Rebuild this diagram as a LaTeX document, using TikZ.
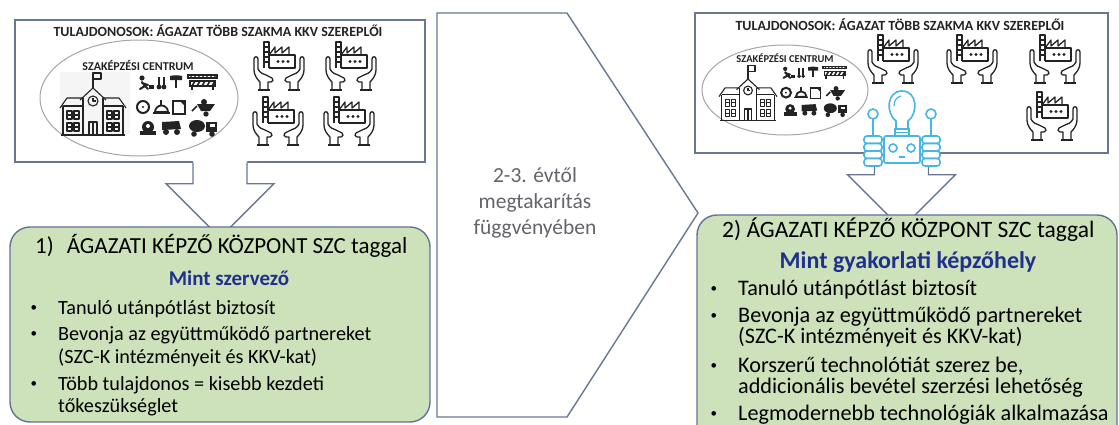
\documentclass[tikz,border=0pt]{standalone}
\usepackage{fontspec}
\setmainfont{Carlito}
\definecolor{keret}{RGB}{105,118,148}
\definecolor{zoldhat}{RGB}{205,226,186}
\definecolor{zoldkeret}{RGB}{96,114,150}
\definecolor{sotetkek}{RGB}{32,48,140}
\definecolor{szurke}{RGB}{100,100,108}
\definecolor{izzo}{RGB}{70,182,228}
\definecolor{ikon}{RGB}{35,35,35}
\definecolor{ellipszis}{RGB}{165,165,170}

\newcommand\pont{\llap{\raisebox{2.4pt}{\fontsize{13}{13}\selectfont\textbullet}\hspace{21pt}}}

\tikzset{
  felsodoboz/.style={draw=keret, line width=1.4pt, fill=white, inner sep=0pt},
  zolddoboz/.style={draw=zoldkeret, line width=1.4pt, fill=zoldhat, rounded corners=20pt, inner sep=0pt},
  sor/.style={anchor=base west, inner sep=0pt},
  lenyil/.pic={
    \fill[white] (-27,-2) -- (-27,21) -- (-54,21) -- (0,75) -- (54,21) -- (27,21) -- (27,-2) -- cycle;
    \draw[keret, line width=1.4pt, line join=miter] (-27,0) -- (-27,21) -- (-54,21) -- (0,75) -- (54,21) -- (27,21) -- (27,0);
  },
  gyarkez/.pic={
    \begin{scope}[ikon, line width=1.3pt, line join=round]
      \draw (-15,1) -- (-15,-25) -- (-10,-25) -- (-10,1);
      \foreach \yy in {-20,-15,-10,-5} \draw (-15,\yy) -- (-10,\yy);
      \draw (-10,-12) -- (-4,-20) -- (-4,-14) -- (3,-20) -- (3,-14) -- (10,-20) -- (10,-12);
      \draw (-10,-12) -- (16,-12) -- (16,1) -- (-10,1);
      \foreach \xx in {-1,4,9} \fill (\xx,-5.5) circle (1.7);
      \foreach \s in {1,-1} {
        \begin{scope}[xscale=\s]
          \draw (-19,23) -- (-19,15) .. controls (-22,12) and (-25,8) .. (-25,3) -- (-25,-8)
            .. controls (-25,-11) and (-21,-11) .. (-21,-8) -- (-21,2)
            .. controls (-19,6) and (-16,7) .. (-13,8) -- (-7,11)
            .. controls (-5,12) and (-6,15) .. (-8,15) -- (-11,15) -- (-11,23);
          \draw (-21,23) -- (-9,23);
        \end{scope}}
    \end{scope}
  },
  iskola/.pic={
    \begin{scope}[ikon, line width=1.1pt, line join=round]
      \draw (-32,30) -- (32,30);
      \draw (-30,30) -- (-30,1) (30,30) -- (30,1);
      \draw (-33,3) -- (-26,-7) -- (-10,-7) (33,3) -- (26,-7) -- (10,-7);
      \draw (-10,30) -- (-10,-7) (10,30) -- (10,-7);
      \draw (-13,-5) -- (0,-17) -- (13,-5);
      \draw (-30,1) -- (-10,1) (10,1) -- (30,1);
      \draw (0,-17) -- (0,-32);
      \draw (0,-32) rectangle (8,-26);
      \draw (0,-4) circle (5);
      \draw (0,-7) -- (0,-4) -- (2.5,-4);
      \foreach \xx in {-26,-19,14,21}
        \foreach \yy in {6,18} {
          \draw (\xx,\yy) rectangle ++(5,8);
          \draw (\xx,\yy+4) -- ++(5,0);
        }
      \draw (-4,17) rectangle (4,30);
      \draw (0,17) -- (0,30);
    \end{scope}
  },
  eszkozok/.pic={
    \begin{scope}[ikon]
      \fill (-40,-27) circle (2.6);
      \draw[line width=2pt, line cap=round] (-40,-23) -- (-37,-19) -- (-42,-16) (-37,-19) -- (-34,-16) (-40,-22) -- (-34,-20);
      \fill (-33,-20) rectangle (-28,-16);
      \draw[line width=2pt] (-23,-28) -- (-23,-19) (-18,-28) -- (-18,-19);
      \fill (-23,-18) circle (2.4) (-18,-18) circle (2.4);
      \fill (-12,-29) .. controls (-8,-30) and (-4,-30) .. (0,-29) -- (0,-25) -- (-12,-25) -- cycle;
      \draw[line width=2.2pt] (-6,-26) -- (-6,-17);
      \draw[line width=1.2pt] (6,-30) rectangle (35,-27);
      \foreach \xx in {8,12,...,32} \draw[line width=1pt] (\xx,-27) -- (\xx+2,-30);
      \draw[line width=1.2pt] (8,-24) rectangle (33,-19);
      \foreach \xx in {10,15,...,30} \draw[line width=1.6pt] (\xx,-19) -- (\xx+3,-24);
      \draw[line width=1.8pt] (10,-19) -- (10,-15) (31,-19) -- (31,-15);
      \draw[line width=2pt] (-39,2) circle (6);
      \fill (-39,2) circle (1.2);
      \draw[line width=1.8pt, fill=white] (-27,7) arc (180:360:6.5) -- cycle;
      \draw[line width=1.8pt] (-21,1) -- (-21,-5);
      \draw[line width=1.8pt] (-29,8) -- (-12,8);
      \draw[line width=1.7pt] (-9,-4) rectangle (3,9);
      \fill (-2,-4) -- (3,-4) -- (3,1) -- cycle;
      \fill (15,-1) -- (33,-1) -- (28,6) -- (19,6) -- cycle;
      \fill (22,-3) circle (3);
      \fill (24,9) circle (2.7);
      \draw[line width=1.6pt] (15,1) -- (10,6);
      \fill (-34,22) circle (6);
      \fill (-42,26) rectangle (-26,30);
      \fill[white] (-34,21) circle (2);
      \fill (-20,17) -- (-3,16) -- (-1,24) -- (-20,25) -- cycle;
      \fill (-16,27) circle (3) (-5,27) circle (3);
      \fill (15,21) ellipse (8 and 6);
      \fill (24,17) rectangle (35,27);
      \fill[white] (28,19) rectangle (33,22);
      \fill (12,29) circle (2.8) (30,29) circle (2.8);
    \end{scope}
  }
}

\begin{document}
\begin{tikzpicture}[x=1pt,y=-1pt]
  \useasboundingbox (0,0) rectangle (1119,424);
  \clip (0,0) rectangle (1119,424);

  \node[felsodoboz, minimum width=410pt, minimum height=142pt] (felso1) at (220,91) {};
  \node[felsodoboz, minimum width=413pt, minimum height=140pt] (felso2) at (901.5,83) {};

  \fill[gray!8] (60,72) rectangle (130,134);
  \draw[ellipszis, line width=1pt] (139,98) ellipse (99 and 58);
  \draw[ellipszis, line width=1pt] (785,90) ellipse (83 and 45);

  \pic at (93,105) {iskola};
  \pic at (182,105) {eszkozok};
  \pic[scale=0.88] at (748,94) {iskola};
  \pic[scale=0.82] at (818,91) {eszkozok};

  \pic at (279,67) {gyarkez};
  \pic at (351,67) {gyarkez};
  \pic at (278,122) {gyarkez};
  \pic at (349,122) {gyarkez};
  \pic at (893,60) {gyarkez};
  \pic at (972,60) {gyarkez};
  \pic at (1055,60) {gyarkez};
  \pic at (1052,117) {gyarkez};

  \begin{scope}[text=ikon, inner sep=0pt]
    \node[anchor=base, font=\bfseries\fontsize{14}{16}\selectfont] (cim1) at (218,36) {TULAJDONOSOK: ÁGAZAT TÖBB SZAKMA KKV SZEREPLŐI};
    \node[anchor=base, font=\bfseries\fontsize{14}{16}\selectfont] (cim2) at (900,30) {TULAJDONOSOK: ÁGAZAT TÖBB SZAKMA KKV SZEREPLŐI};
    \node[anchor=base, font=\bfseries\fontsize{12}{14}\selectfont] (szc1) at (138,70) {SZAKÉPZÉSI CENTRUM};
    \node[anchor=base, font=\bfseries\fontsize{10.5}{12}\selectfont] (szc2) at (785,62) {SZAKÉPZÉSI CENTRUM};
  \end{scope}

  \pic at (felso1.south) {lenyil};
  \pic at (felso2.south) {lenyil};

  \draw[keret, line width=1.4pt, fill=white] (437,13) -- (567,13) -- (698,213) -- (567,417) -- (437,417) -- cycle;
  \node[align=center, text=szurke, font=\fontsize{21.5}{26}\selectfont] (kozep) at (535,203) {2-3. évtől\\megtakarítás\\függvényében};

  \node[zolddoboz, minimum width=420pt, minimum height=195pt] (zold1) at (220,324.5) {};
  \node[zolddoboz, minimum width=420pt, minimum height=235pt] (zold2) at (907,332.5) {};

  \node[sor, font=\fontsize{23}{26}\selectfont] (fej1) at (35,253) {1)\hspace{13pt}ÁGAZATI KÉPZŐ KÖZPONT SZC taggal};
  \node[sor, font=\fontsize{23.5}{26}\selectfont] (fej2) at (722,237) {2) ÁGAZATI KÉPZŐ KÖZPONT SZC taggal};
  \node[anchor=base, inner sep=0pt, text=sotetkek, font=\bfseries\fontsize{21}{24}\selectfont] (szerep1) at (229,285) {Mint szervező};
  \node[anchor=base, inner sep=0pt, text=sotetkek, font=\bfseries\fontsize{24}{26}\selectfont] (szerep2) at (908,268) {Mint gyakorlati képzőhely};

  \begin{scope}[font=\fontsize{20.2}{22}\selectfont]
    \node[sor] (b11) at (58,314) {\pont Tanuló utánpótlást biztosít};
    \node[sor] (b12) at (58,340) {\pont Bevonja az együttműködő partnereket};
    \node[sor] (b13) at (58,363) {(SZC-K intézményeit és KKV-kat)};
    \node[sor] (b14) at (58,390) {\pont Több tulajdonos = kisebb kezdeti};
    \node[sor] (b15) at (58,412) {tőkeszükséglet};
  \end{scope}

  \begin{scope}[font=\fontsize{22.2}{24}\selectfont]
    \node[sor] (b21) at (738,295) {\pont Tanuló utánpótlást biztosít};
    \node[sor] (b22) at (738,322) {\pont Bevonja az együttműködő partnereket};
    \node[sor] (b23) at (738,343) {(SZC-K intézményeit és KKV-kat)};
    \node[sor] (b24) at (738,372) {\pont Korszerű technolótiát szerez be,};
    \node[sor] (b25) at (738,393) {addicionális bevétel szerzési lehetőség};
    \node[sor] (b26) at (738,420) {\pont Legmodernebb technológiák alkalmazása};
  \end{scope}

  \begin{scope}[izzo, line width=1.6pt]
    \draw[fill=white] (896,129) -- (896,121) .. controls (886,114) and (886,91) .. (902,91)
      .. controls (918,91) and (918,114) .. (908,121) -- (908,129);
    \draw[fill=white] (895,129) rectangle (909,136);
    \draw (895,132.5) -- (909,132.5);
    \draw[line width=1.2pt] (894,106) .. controls (894,100) and (897,97) .. (901,96);
    \draw[fill=white, rounded corners=2pt] (884,136) rectangle (920,163);
    \draw (893,148) circle (4) (911,148) circle (4);
    \draw (899,157) -- (905,157);
    \draw (873,119) -- (873,136) (931,119) -- (931,136);
    \draw[fill=white] (873,114) circle (5) (931,114) circle (5);
    \foreach \i in {0,1,2,3} {
      \draw[fill=white, rounded corners=3pt] (864,136+7.5*\i) rectangle (882,143.5+7.5*\i);
      \draw[fill=white, rounded corners=3pt] (922,136+7.5*\i) rectangle (940,143.5+7.5*\i);
    }
  \end{scope}
\end{tikzpicture}
\end{document}
